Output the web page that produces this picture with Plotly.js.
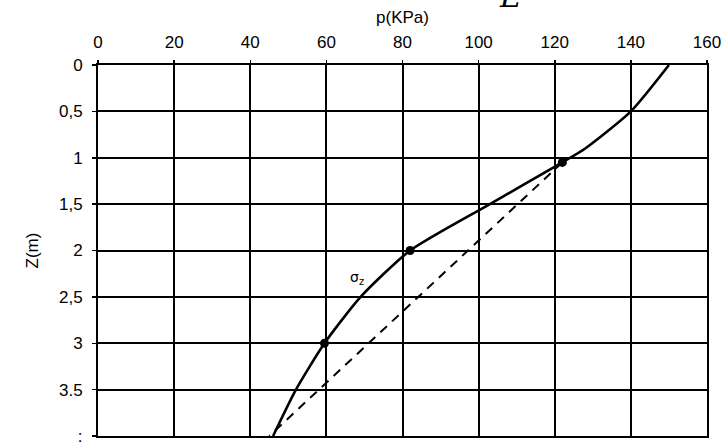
<!DOCTYPE html>
<html>
<head>
<meta charset="utf-8">
<script src="https://cdn.plot.ly/plotly-3.0.1.min.js"></script>
<style>html,body{margin:0;padding:0;background:#fff;}#chart{width:722px;height:445px;}</style>
</head>
<body>
<div id="chart"></div>
<script>
// Solid curve sigma_z: pressure p (kPa) vs depth Z (m)
var sigmaP = [150, 140, 128, 122, 102.5, 82, 69, 59.5, 52, 46];
var sigmaZ = [0, 0.5, 0.9, 1.05, 1.51, 2.0, 2.5, 3.0, 3.5, 4.0];
// Marked points
var dotP = [122, 82, 59.5];
var dotZ = [1.05, 2.0, 3.0];
// Dashed straight line
var dashP = [122, 45];
var dashZ = [1.05, 4.0];
// Axis ticks
var xTicks = [0, 20, 40, 60, 80, 100, 120, 140, 160];
var yTickVals = [0, 0.5, 1, 1.5, 2, 2.5, 3, 3.5, 4];
var yTickText = ['0', '0,5', '1', '1,5', '2', '2,5', '3', '3.5', ':'];

var traces = [
  {x: sigmaP, y: sigmaZ, mode: 'lines', type: 'scatter',
   line: {color: '#000', width: 2.6, shape: 'spline', smoothing: 0.6}, hoverinfo: 'skip'},
  {x: dashP, y: dashZ, mode: 'lines', type: 'scatter',
   line: {color: '#000', width: 2, dash: '9px,7px'}, hoverinfo: 'skip'},
  {x: dotP, y: dotZ, mode: 'markers', type: 'scatter',
   marker: {color: '#000', size: 9}, hoverinfo: 'skip'}
];

var font = {family: 'Liberation Sans, Arial, sans-serif', size: 17, color: '#000'};

var layout = {
  width: 722, height: 445,
  margin: {l: 98, r: 15, t: 65, b: 9},
  paper_bgcolor: '#fff', plot_bgcolor: '#fff',
  showlegend: false,
  font: font,
  xaxis: {
    side: 'top', range: [0, 160], tickvals: xTicks,
    showgrid: true, gridcolor: '#000', gridwidth: 2,
    zeroline: false, showline: true, linecolor: '#000', linewidth: 2, mirror: true,
    ticks: 'outside', ticklen: 3, tickcolor: '#000', tickwidth: 1.5,
    tickfont: font, ticklabelstandoff: 5, ticklabeloverflow: 'allow',
    title: {text: 'p(KPa)', font: font, standoff: 5}
  },
  yaxis: {
    range: [4, 0], tickvals: yTickVals, ticktext: yTickText,
    showgrid: true, gridcolor: '#000', gridwidth: 2,
    zeroline: false, showline: true, linecolor: '#000', linewidth: 2, mirror: true,
    ticks: 'outside', ticklen: 4, tickcolor: '#000', tickwidth: 1.5,
    tickfont: font, ticklabelstandoff: 6, ticklabeloverflow: 'allow',
    title: {text: 'Z(m)', font: font, standoff: 16}
  },
  annotations: [
    {x: 68, y: 2.3, xref: 'x', yref: 'y', text: 'σ<sub>z</sub>', showarrow: false,
     font: {family: 'DejaVu Sans, sans-serif', size: 14, color: '#000'}},
    {x: 0.70, y: 1.185, xref: 'paper', yref: 'paper', text: '<i>E</i>', showarrow: false,
     yanchor: 'middle', font: {family: 'DejaVu Serif, serif', size: 30, color: '#000'}}
  ]
};

Plotly.newPlot('chart', traces, layout, {staticPlot: true, displayModeBar: false});
</script>
</body>
</html>
